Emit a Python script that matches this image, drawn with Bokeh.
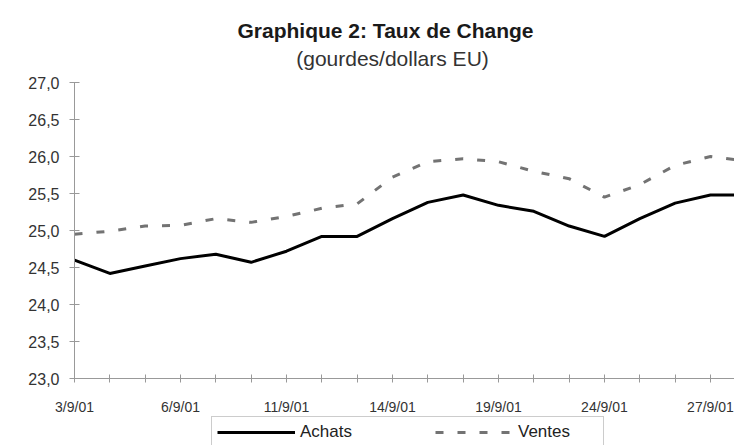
from bokeh.plotting import figure
from bokeh.models import (Range1d, FixedTicker, CustomJSTickFormatter, Legend,
                          LegendItem, Label, ColumnDataSource)
from bokeh.embed import file_html
from bokeh.resources import INLINE

# ---- data ----
dates = ["3/9/01", "4/9/01", "5/9/01", "6/9/01", "7/9/01", "10/9/01", "11/9/01",
         "12/9/01", "13/9/01", "14/9/01", "17/9/01", "18/9/01", "19/9/01",
         "20/9/01", "21/9/01", "24/9/01", "25/9/01", "26/9/01", "27/9/01", "28/9/01"]
achats = [24.60, 24.42, 24.52, 24.62, 24.68, 24.57, 24.72, 24.92, 24.92, 25.16,
          25.38, 25.48, 25.34, 25.26, 25.06, 24.92, 25.16, 25.37, 25.48, 25.48]
ventes = [24.95, 24.99, 25.06, 25.07, 25.16, 25.11, 25.19, 25.30, 25.36, 25.72,
          25.93, 25.97, 25.93, 25.80, 25.70, 25.45, 25.62, 25.88, 26.00, 25.94]
labelled_dates = ["3/9/01", "6/9/01", "11/9/01", "14/9/01", "19/9/01", "24/9/01", "27/9/01"]
y_ticks = [23.0, 23.5, 24.0, 24.5, 25.0, 25.5, 26.0, 26.5, 27.0]
series_names = ["Achats", "Ventes"]
title_text = "Graphique 2: Taux de Change"
subtitle_text = "(gourdes/dollars EU)"

FONT = "Liberation Sans"

# ---- layout constants (pixels) ----
W, H = 734, 445
LEFT = 74                      # pixel column of the y axis
X_VISIBLE_MAX = 18.68          # x value at the right edge of the picture
Y_TOP_PX, Y_BOT_PX = 82, 378   # pixel rows of 27,0 and 23,0
Y_MIN, Y_MAX = y_ticks[0], y_ticks[-1]
py_per_unit = (Y_BOT_PX - Y_TOP_PX) / (Y_MAX - Y_MIN)
y_lo = Y_MIN - (H - Y_BOT_PX) / py_per_unit
y_hi = Y_MAX + Y_TOP_PX / py_per_unit
px_per_unit = (W - LEFT) / X_VISIBLE_MAX
x_lo = -LEFT / px_per_unit

x = list(range(len(dates)))
src = ColumnDataSource(dict(x=x, date=dates, achats=achats, ventes=ventes))

p = figure(width=W, height=H, output_backend="svg", toolbar_location=None,
           title=None,
           x_range=Range1d(x_lo, X_VISIBLE_MAX), y_range=Range1d(y_lo, y_hi),
           min_border_left=0, min_border_right=0, min_border_top=0,
           min_border_bottom=0)
p.outline_line_color = None
p.grid.visible = False
p.background_fill_color = "white"
p.border_fill_color = "white"

r1 = p.line("x", "achats", source=src, line_color="black", line_width=3)
r2 = p.line("x", "ventes", source=src, line_color="#737373", line_width=3,
            line_dash="8 14")

# x axis, fixed at y = 23,0
xa = p.xaxis[0]
xa.fixed_location = Y_MIN
xa.bounds = (0, X_VISIBLE_MAX)
xa.ticker = FixedTicker(ticks=x, minor_ticks=[])
xa.major_label_overrides = {i: (d if d in labelled_dates else "") for i, d in zip(x, dates)}
xa.major_tick_in = 4
xa.major_tick_out = 4
xa.minor_tick_line_color = None
xa.major_label_standoff = 16
xa.major_label_text_font = FONT
xa.major_label_text_font_size = "14px"
xa.major_label_text_color = "#333333"
xa.axis_line_color = "#999999"
xa.major_tick_line_color = "#999999"

# y axis, fixed at the first date, limited to 23,0 .. 27,0
ya = p.yaxis[0]
ya.fixed_location = 0
ya.bounds = (Y_MIN, Y_MAX)
ya.ticker = FixedTicker(ticks=y_ticks, minor_ticks=[])
ya.formatter = CustomJSTickFormatter(code="return tick.toFixed(1).replace('.', ',');")
ya.major_tick_in = 5
ya.major_tick_out = 5
ya.minor_tick_line_color = None
ya.major_label_standoff = 10
ya.major_label_text_font = FONT
ya.major_label_text_font_size = "16px"
ya.major_label_text_color = "#333333"
ya.axis_line_color = "#999999"
ya.major_tick_line_color = "#999999"

# titles (screen units relative to the frame, which fills the canvas)
p.add_layout(Label(x=385, y=H - 30, x_units="screen", y_units="screen",
                   text=title_text, text_align="center", text_baseline="alphabetic",
                   text_font=FONT, text_font_size="21px", text_font_style="bold",
                   text_color="#1a1a1a"))
p.add_layout(Label(x=392, y=H - 58, x_units="screen", y_units="screen",
                   text=subtitle_text, text_align="center", text_baseline="alphabetic",
                   text_font=FONT, text_font_size="21px", text_color="#333333"))

legend = Legend(items=[LegendItem(label=series_names[0], renderers=[r1]),
                       LegendItem(label=series_names[1], renderers=[r2])],
                orientation="horizontal", location=(211, -3),
                border_line_color="#999999", border_line_width=1,
                padding=5, spacing=55, glyph_width=78, glyph_height=18,
                label_height=18, label_width=80, label_standoff=5,
                label_text_font=FONT, label_text_font_size="17px",
                label_text_color="#222222", margin=0,
                background_fill_color="white", background_fill_alpha=1)
p.add_layout(legend)

open("out.html", "w").write(file_html(p, INLINE))
